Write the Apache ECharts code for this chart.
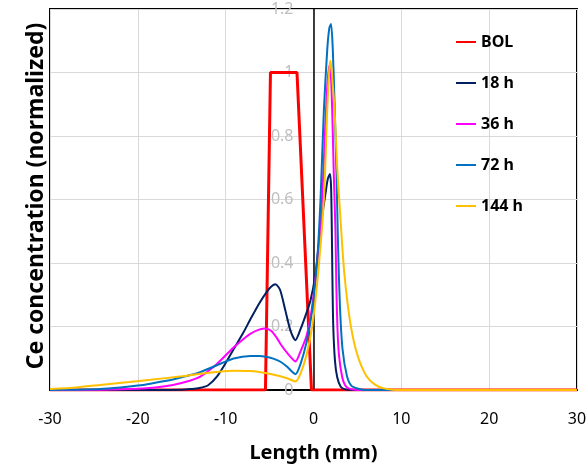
<!DOCTYPE html>
<html>
<head>
<meta charset="utf-8">
<script src="https://cdn.jsdelivr.net/npm/echarts@6/dist/echarts.min.js"></script>
<style>
html,body{margin:0;padding:0;background:#fff;}
#chart{width:587px;height:465px;}
</style>
</head>
<body>
<div id="chart"></div>
<script>
// ---- data (x in mm, y normalized) ----
const seriesNames = ['BOL', '18 h', '36 h', '72 h', '144 h'];
const xTicks = [-30, -20, -10, 0, 10, 20, 30];
const yTicks = [0, 0.2, 0.4, 0.6, 0.8, 1, 1.2];

const bol = [[-30,0],[-5.47,0],[-4.9,1],[-1.88,1],[-0.23,0],[30,0]];

const h18 = [[-30,0],[-18,0],[-15,0.001],[-14,0.003],[-13,0.006],[-12,0.015],[-11,0.042],[-10,0.085],[-9.1,0.128],[-8,0.18],[-7.2,0.222],[-6.2,0.272],[-5.3,0.31],[-4.8,0.326],[-4.33,0.333],[-3.8,0.315],[-3.2,0.25],[-2.6,0.185],[-2.05,0.157],[-1.5,0.19],[-0.9,0.235],[-0.34,0.283],[0.2,0.36],[0.6,0.46],[1.0,0.55],[1.37,0.62],[1.63,0.665],[1.88,0.68],[2.0,0.64],[2.08,0.52],[2.15,0.36],[2.25,0.2],[2.45,0.09],[2.7,0.04],[3.1,0.01],[3.6,0.002],[4.5,0],[30,0]];

const h36 = [[-30,0],[-24,0.001],[-20,0.004],[-18,0.008],[-16,0.016],[-14,0.03],[-12.9,0.042],[-11,0.082],[-9.1,0.134],[-8,0.16],[-7.2,0.177],[-6.2,0.19],[-5.5,0.194],[-4.8,0.186],[-4.2,0.165],[-3.76,0.145],[-3,0.117],[-2.05,0.09],[-1.5,0.12],[-0.8,0.17],[-0.3,0.235],[0.3,0.37],[0.8,0.52],[1.1,0.67],[1.37,0.85],[1.6,0.97],[1.82,1.024],[2.0,0.98],[2.13,0.88],[2.32,0.67],[2.5,0.5],[2.6,0.33],[2.72,0.2],[2.9,0.11],[3.27,0.04],[3.6,0.015],[4.0,0.005],[5,0],[30,0]];

const h72 = [[-30,0],[-27,0.001],[-24.3,0.003],[-22,0.008],[-20,0.014],[-18.6,0.02],[-16,0.033],[-14,0.047],[-12.9,0.056],[-11,0.078],[-9.1,0.099],[-7.2,0.107],[-6.2,0.107],[-5.3,0.104],[-4.5,0.098],[-3.76,0.089],[-3,0.073],[-2.05,0.05],[-1.5,0.08],[-0.8,0.15],[-0.15,0.25],[0.4,0.4],[0.8,0.6],[1.18,0.88],[1.56,1.07],[1.8,1.14],[2.0,1.153],[2.2,1.07],[2.4,0.9],[2.6,0.7],[2.8,0.45],[3.0,0.27],[3.3,0.13],[3.8,0.045],[4.3,0.014],[5.2,0.003],[6,0],[30,0]];

const h144 = [[-30,0.003],[-27,0.008],[-24.3,0.016],[-21,0.025],[-18.6,0.032],[-15,0.043],[-12.9,0.051],[-11,0.057],[-9.1,0.061],[-7.2,0.06],[-5.3,0.053],[-4,0.045],[-3,0.037],[-2.05,0.027],[-1.5,0.05],[-0.8,0.11],[-0.15,0.2],[0.5,0.36],[1.18,0.6],[1.56,0.88],[1.8,1.01],[1.94,1.037],[2.2,0.96],[2.4,0.88],[2.7,0.7],[3.0,0.57],[3.5,0.37],[4.2,0.21],[5.0,0.11],[6.0,0.045],[7.0,0.017],[8.0,0.005],[9,0.001],[10,0],[30,0]];

const colors = ['#FF0000', '#002060', '#FF00FF', '#0070C0', '#FFC000'];
const widths = [3, 2, 2, 2, 2];
const dataSets = [bol, h18, h36, h72, h144];

const chart = echarts.init(document.getElementById('chart'), null, {renderer: 'canvas'});
const FONT = '"Noto Sans", "Open Sans", sans-serif';

const gridLeft = 50, gridRight = 10;
const gridWidth = 587 - gridLeft - gridRight;
// y axis sits where x = 0 (middle of -30..30 range)
const yAxisOffset = -gridWidth * (0 - (-30)) / 60;

chart.setOption({
  animation: false,
  backgroundColor: '#fff',
  grid: {
    left: gridLeft, right: gridRight, top: 9, bottom: 75,
    show: true, borderColor: '#000', borderWidth: 2,
    containLabel: false, outerBoundsMode: 'none'
  },
  legend: {
    orient: 'vertical',
    left: 456, top: 34,
    padding: 0,
    icon: 'rect',
    itemWidth: 20, itemHeight: 2, itemGap: 25,
    data: seriesNames,
    textStyle: {fontFamily: FONT, fontWeight: 'bold', fontSize: 16, color: '#000', lineHeight: 16}
  },
  xAxis: {
    type: 'value', min: -30, max: 30, interval: 10,
    name: 'Length (mm)', nameLocation: 'middle', nameGap: 53,
    nameTextStyle: {fontFamily: FONT, fontWeight: 'bold', fontSize: 20, color: '#000'},
    axisLine: {show: true, onZero: false, lineStyle: {color: '#000', width: 2}},
    axisTick: {show: false},
    axisLabel: {fontFamily: FONT, fontSize: 16, color: '#000', margin: 21,
      formatter: v => xTicks.includes(v) ? String(v) : ''},
    splitLine: {show: true, lineStyle: {color: '#d9d9d9', width: 1}}
  },
  yAxis: {
    type: 'value', min: 0, max: 1.2, interval: 0.2,
    position: 'left', offset: yAxisOffset,
    axisLine: {show: true, onZero: false, lineStyle: {color: '#000', width: 1.5}},
    axisTick: {show: false},
    axisLabel: {fontFamily: FONT, fontSize: 16, color: '#bfbfbf', margin: 20,
      formatter: v => String(Math.round(v * 10) / 10)},
    splitLine: {show: true, lineStyle: {color: '#d9d9d9', width: 1}}
  },
  graphic: [{
    type: 'text',
    x: 36, y: 196,
    rotation: Math.PI / 2,
    style: {
      text: 'Ce concentration (normalized)',
      fontFamily: FONT, fontWeight: 'bold', fontSize: 23, fill: '#000',
      align: 'center', verticalAlign: 'middle'
    }
  }],
  series: seriesNames.map((n, i) => ({
    name: n,
    type: 'line',
    data: dataSets[i],
    symbol: 'none',
    smooth: i === 0 ? false : 0.25,
    lineStyle: {color: colors[i], width: widths[i]},
    itemStyle: {color: colors[i]},
    z: 2 + i
  }))
});
</script>
</body>
</html>
